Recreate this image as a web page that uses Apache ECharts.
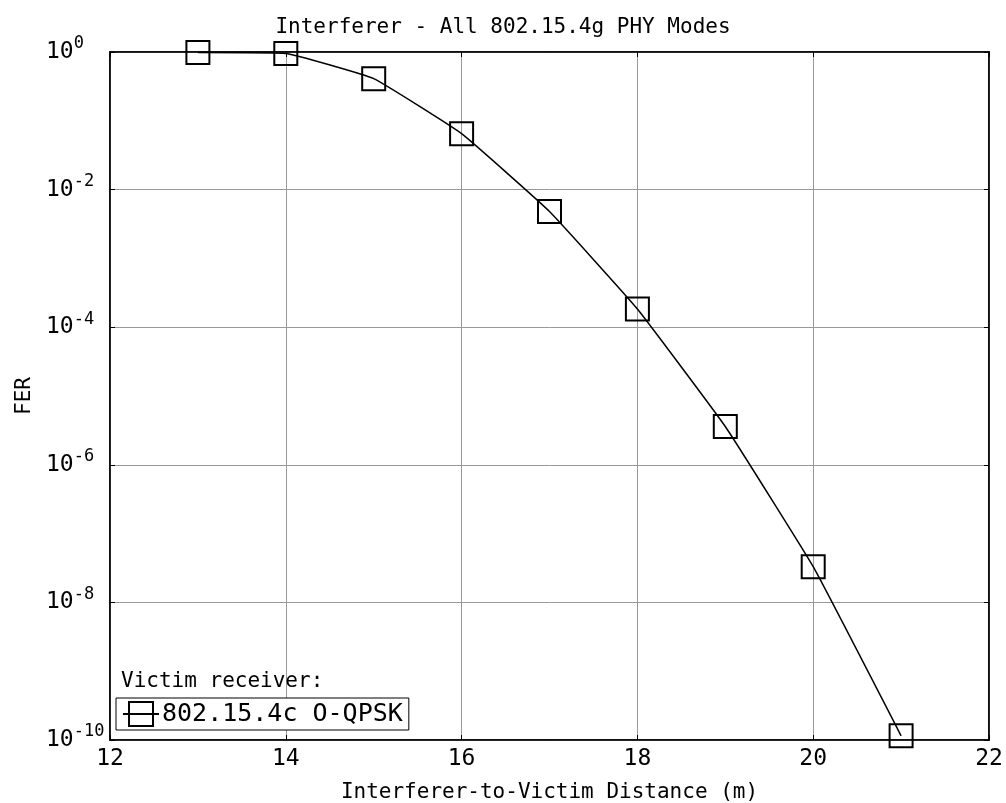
<!DOCTYPE html>
<html>
<head>
<meta charset="utf-8">
<script src="https://cdn.jsdelivr.net/npm/echarts@6/dist/echarts.min.js"></script>
<style>
html,body{margin:0;padding:0;background:#fff;}
#chart{width:1006px;height:803px;}
</style>
</head>
<body>
<div id="chart"></div>
<script>
const distances = [13, 14, 15, 16, 17, 18, 19, 20, 21];
const fer = [0.98, 0.95, 0.41, 0.065, 0.0048, 1.84e-4, 3.6e-6, 3.3e-8, 1.15e-10];
const seriesName = '802.15.4c O-QPSK';
const titleText = 'Interferer - All 802.15.4g PHY Modes';
const xName = 'Interferer-to-Victim Distance (m)';
const yName = 'FER';
const legendTitle = 'Victim receiver:';

const FONT = '"DejaVu Sans Mono", monospace';

const chart = echarts.init(document.getElementById('chart'), null, {renderer: 'canvas'});

function supLabel(v) {
  const e = Math.round(Math.log10(v));
  return '{b|10}{s|' + e + '}';
}

const option = {
  backgroundColor: '#fff',
  animation: false,
  title: [
    {text: titleText, left: 'center', top: 12, textStyle: {fontFamily: FONT, fontSize: 21, fontWeight: 'normal', color: '#000'}},
    {text: legendTitle, left: 116, top: 666, textStyle: {fontFamily: FONT, fontSize: 21, fontWeight: 'normal', color: '#000'}}
  ],
  grid: {left: 110, right: 17, top: 52, bottom: 63, show: true, borderColor: '#000', borderWidth: 1.5, backgroundColor: 'transparent', outerBoundsMode: 'none', containLabel: false},
  legend: {
    left: 116, top: 698,
    orient: 'vertical',
    data: [seriesName],
    backgroundColor: '#fff',
    borderColor: '#000', borderWidth: 1,
    padding: [3, 6, 3, 6],
    itemWidth: 36, itemHeight: 30, itemGap: 0,
    textStyle: {fontFamily: FONT, fontSize: 25, color: '#000', padding: [0,0,0,-2]}
  },
  xAxis: [
    {
      type: 'value', min: 12, max: 22, interval: 2,
      name: xName, nameLocation: 'middle', nameGap: 42,
      nameTextStyle: {fontFamily: FONT, fontSize: 21, color: '#000'},
      axisLine: {show: true, lineStyle: {color: '#000', width: 1.5}},
      axisTick: {show: true, inside: true, length: 5, lineStyle: {color: '#000'}},
      axisLabel: {fontFamily: FONT, fontSize: 23, color: '#000', margin: 8},
      splitLine: {show: true, lineStyle: {color: '#999', width: 1}}
    },
    {
      type: 'value', min: 12, max: 22, interval: 2, position: 'top',
      axisLine: {show: true, lineStyle: {color: '#000', width: 1.5}},
      axisTick: {show: true, inside: true, length: 5, lineStyle: {color: '#000'}},
      axisLabel: {show: false}, splitLine: {show: false}
    }
  ],
  yAxis: [
    {
      type: 'log', logBase: 10, min: 1e-10, max: 1, interval: 2,
      name: yName, nameLocation: 'middle', nameGap: 72, nameRotate: 90,
      nameTextStyle: {fontFamily: FONT, fontSize: 21, color: '#000'},
      axisLine: {show: true, lineStyle: {color: '#000', width: 1.5}},
      axisTick: {show: true, inside: true, length: 5, lineStyle: {color: '#000'}},
      axisLabel: {
        margin: 64,
        align: 'left',
        formatter: supLabel,
        rich: {
          b: {fontFamily: FONT, fontSize: 23, color: '#000'},
          s: {fontFamily: FONT, fontSize: 17, color: '#000', verticalAlign: 'top', padding: [0, 0, 16, 0]}
        }
      },
      splitLine: {show: true, lineStyle: {color: '#999', width: 1}}
    },
    {
      type: 'log', logBase: 10, min: 1e-10, max: 1, interval: 2, position: 'right',
      axisLine: {show: true, lineStyle: {color: '#000', width: 1.5}},
      axisTick: {show: true, inside: true, length: 5, lineStyle: {color: '#000'}},
      axisLabel: {show: false}, splitLine: {show: false}
    }
  ],
  series: [
    {
      name: seriesName,
      type: 'line',
      data: distances.map((d, i) => [d, fer[i]]),
      smooth: 0.1,
      symbol: 'rect',
      symbolSize: 23,
      showAllSymbol: true,
      lineStyle: {color: '#000', width: 1.5},
      itemStyle: {color: 'rgba(0,0,0,0)', borderColor: '#000', borderWidth: 2},
      emphasis: {disabled: true}
    }
  ]
};
chart.setOption(option);
</script>
</body>
</html>
